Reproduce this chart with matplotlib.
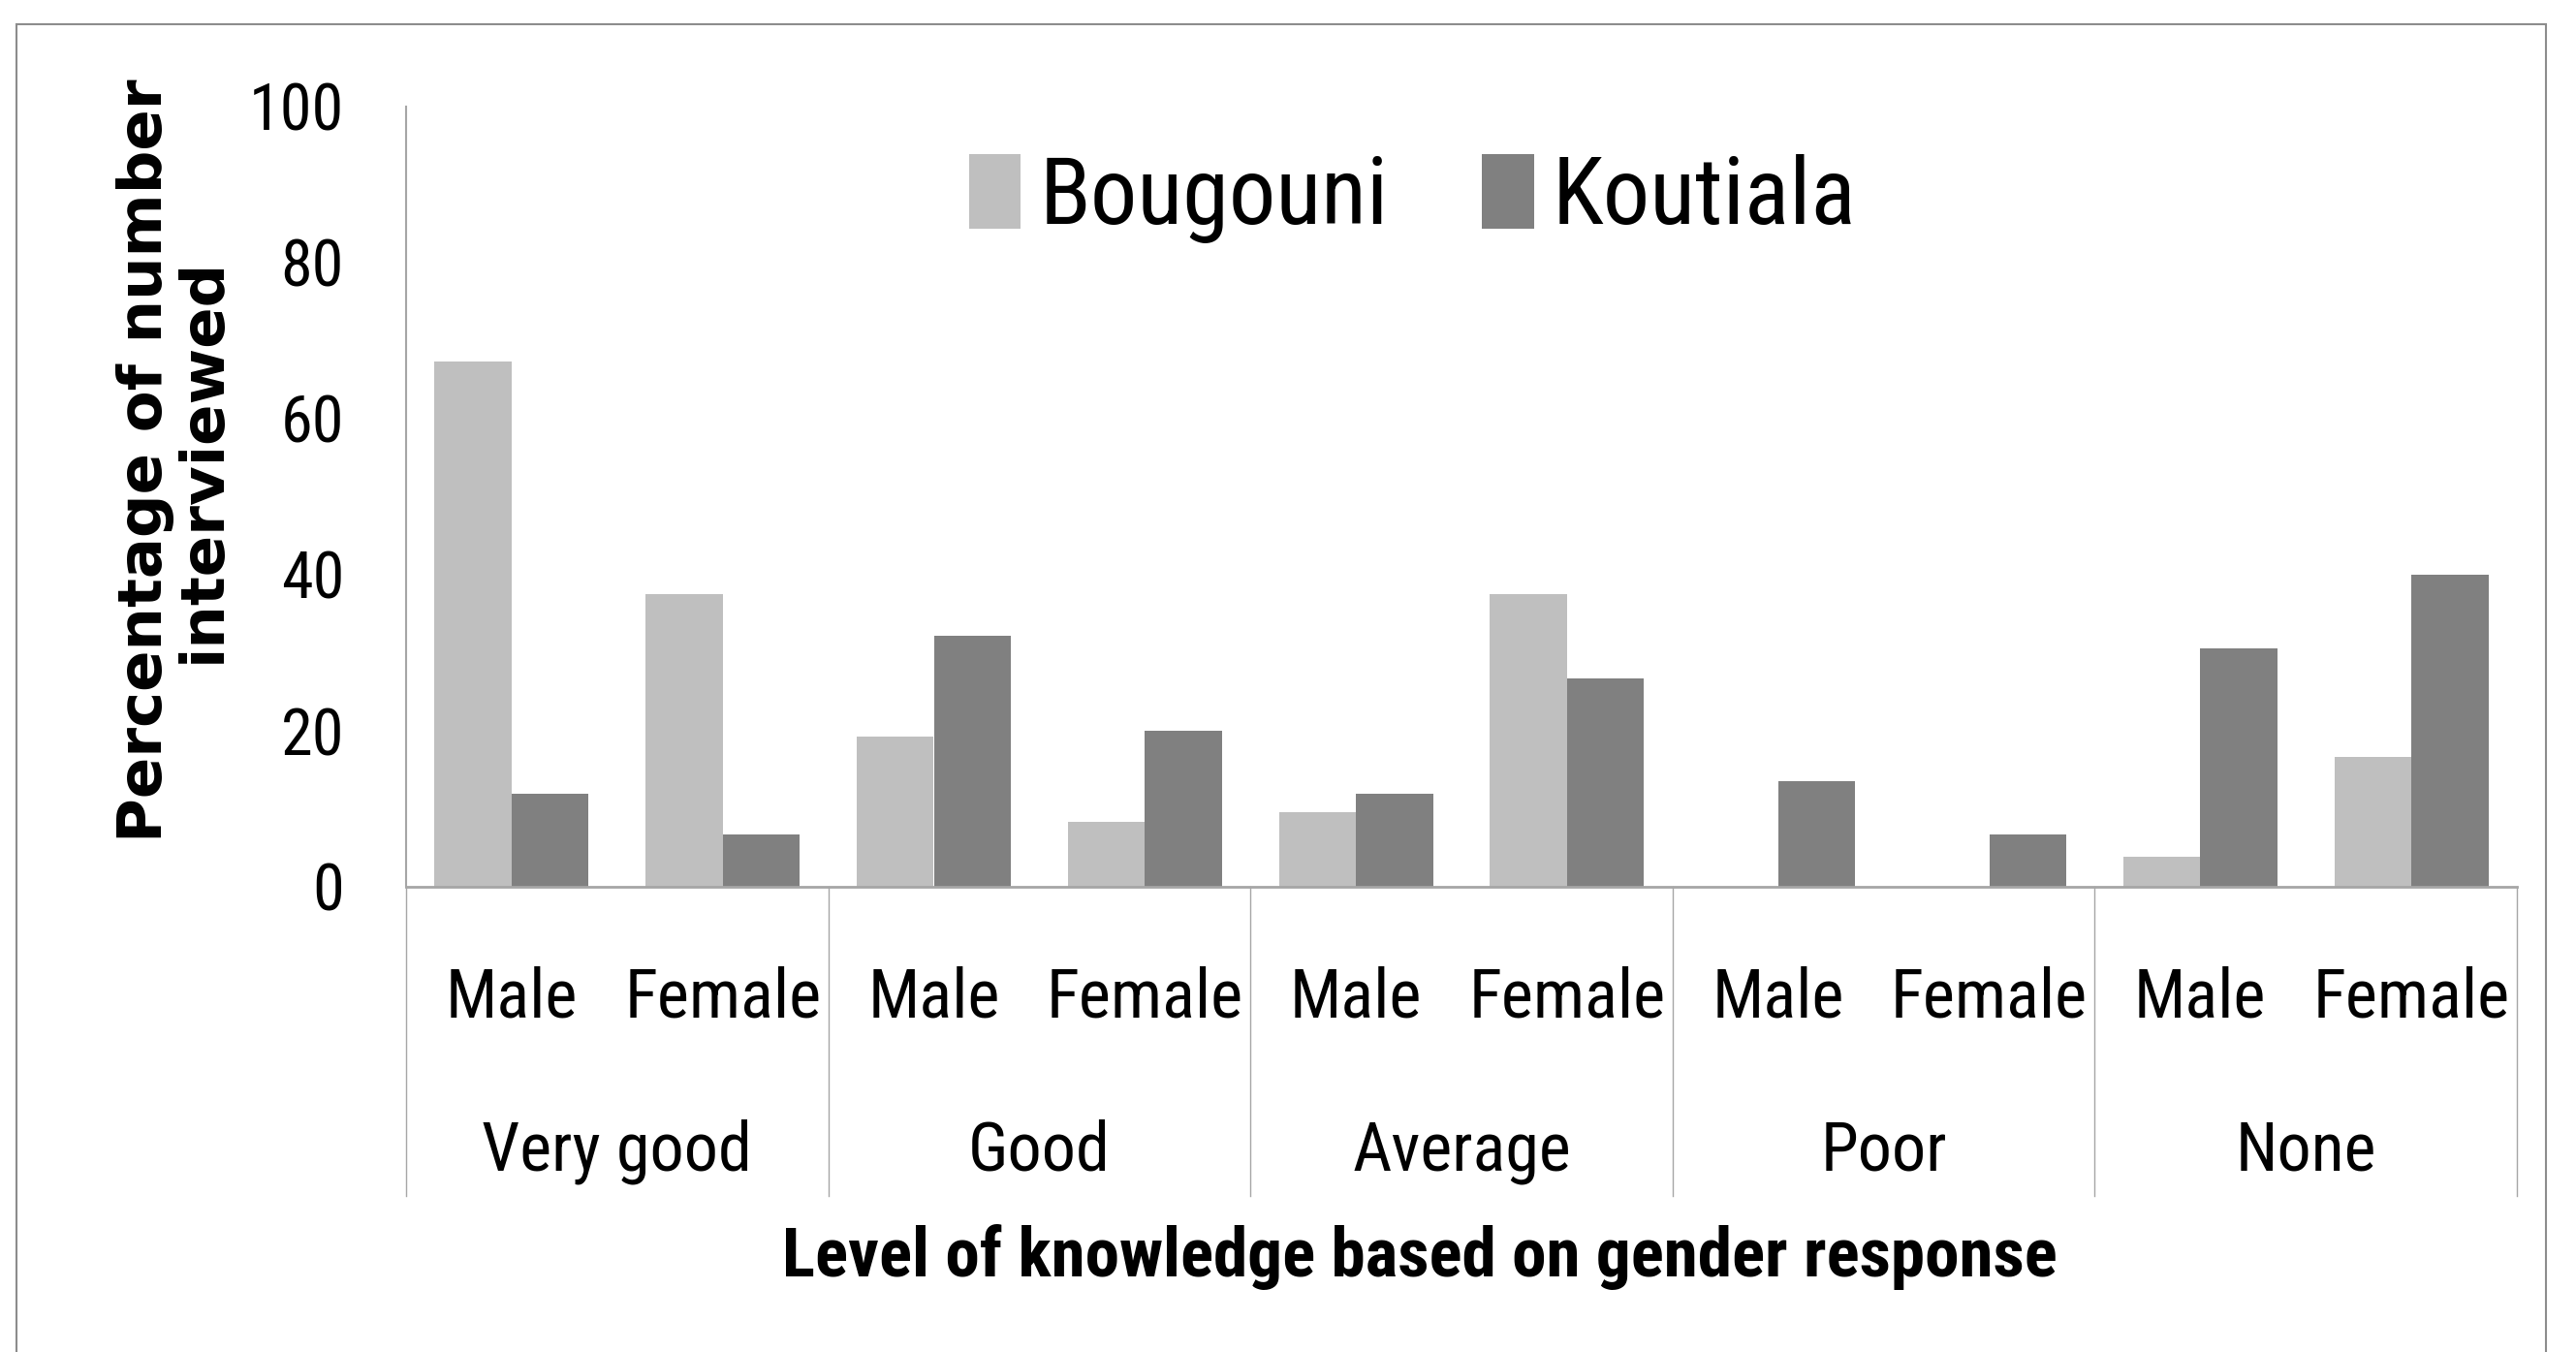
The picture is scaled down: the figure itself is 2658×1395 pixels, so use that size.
import matplotlib
matplotlib.use("Agg")
import matplotlib.pyplot as plt
import matplotlib.transforms as mtransforms
from matplotlib import font_manager
from matplotlib.patches import Rectangle
import numpy as np

# ── DATA ────────────────────────────────────────────────────────────────────
levels = ["Very good", "Good", "Average", "Poor", "None"]
genders = ["Male", "Female"]
bougouni = [67.3, 37.5, 19.2, 8.3, 9.6, 37.5, 0.0, 0.0, 3.8, 16.7]
koutiala = [11.9, 6.7, 32.2, 20.0, 11.9, 26.7, 13.6, 6.7, 30.5, 40.0]
yticks = [0, 20, 40, 60, 80, 100]

LIGHT = "#bfbfbf"
DARK = "#808080"
LINE = "#a6a6a6"

# pick a narrow face if one exists (the original is a Calibri-like font)
installed = {f.name for f in font_manager.fontManager.ttflist}
narrow = None
for cand in ["Liberation Sans Narrow", "Roboto Condensed", "DejaVu Sans Condensed",
             "Noto Sans Condensed", "Open Sans Condensed", "Lato", "Roboto"]:
    if cand in installed:
        narrow = cand
        break
NARROW = [narrow, "DejaVu Sans"] if narrow else ["DejaVu Sans"]

W, H = 2658, 1395
fig = plt.figure(figsize=(W / 100, H / 100), dpi=100)
renderer = fig.canvas.get_renderer()


def fit_size(s, target_px, weight="normal", family=NARROW):
    # font size that gives the string the width measured on the reference
    t = fig.text(0, 0, s, fontsize=50, family=family, fontweight=weight)
    w = t.get_window_extent(renderer).width
    t.remove()
    return 50 * target_px / w


tick_fs = fit_size("100", 98)
sub_fs = (fit_size("Male", 139) + fit_size("Female", 200)) / 2
cat_fs = (fit_size("Very good", 281) + fit_size("Average", 224)) / 2
leg_fs = (fit_size("Bougouni", 363) + fit_size("Koutiala", 312)) / 2
xt_fs = fit_size("Level of knowledge based on gender response", 1317, "bold")

# outer frame of the chart area
fig.patches.append(Rectangle((17 / W, -0.05), (2627 - 17) / W, 1.05 - 25 / H,
                             transform=fig.transFigure, fill=False,
                             edgecolor="#8c8c8c", linewidth=1.5))

ax = fig.add_axes([419 / W, 1 - 915 / H, (2597 - 419) / W, (915 - 110) / H])

x = np.arange(len(bougouni))
bw = 0.365
ax.bar(x - bw / 2, bougouni, bw, color=LIGHT, label="Bougouni")
ax.bar(x + bw / 2, koutiala, bw, color=DARK, label="Koutiala")

ax.set_xlim(-0.5, len(bougouni) - 0.5)
ax.set_ylim(0, 100)
ax.set_yticks(yticks)
ax.set_yticklabels([str(t) for t in yticks], family=NARROW, fontsize=tick_fs)
ax.tick_params(axis="y", length=0, pad=46)
ax.set_xticks([])

for s in ["top", "right"]:
    ax.spines[s].set_visible(False)
ax.spines["left"].set_color(LINE)
ax.spines["bottom"].set_color(LINE)
ax.spines["left"].set_linewidth(1.5)
ax.spines["bottom"].set_linewidth(2)

trans = mtransforms.blended_transform_factory(ax.transData, ax.transAxes)
y_sep = -(1234 - 915) / (915 - 110)
for i in range(len(levels) + 1):
    ax.plot([2 * i - 0.5, 2 * i - 0.5], [0, y_sep], transform=trans,
            color=LINE, linewidth=1, clip_on=False)

for i in range(len(bougouni)):
    ax.text(x[i], -(1030 - 915) / 805, genders[i % 2], transform=trans,
            ha="center", va="center", family=NARROW, fontsize=sub_fs)
for i, lv in enumerate(levels):
    ax.text(2 * i + 0.5, -(1188 - 915) / 805, lv, transform=trans,
            ha="center", va="center", family=NARROW, fontsize=cat_fs)

fig.text(1465 / W, 1 - 1297 / H, "Level of knowledge based on gender response",
         ha="center", va="center", family=NARROW, fontsize=xt_fs, fontweight="bold")
fig.text(180 / W, 1 - 475 / H, "Percentage of number\ninterviewed",
         rotation=90, ha="center", va="center", multialignment="center",
         family="DejaVu Sans", fontsize=45, fontweight="bold", linespacing=1.0)

leg = fig.legend(loc="center left", bbox_to_anchor=(1000 / W, 1 - 205 / H),
                 ncol=2, frameon=False, prop={"family": NARROW, "size": leg_fs},
                 handlelength=0.55, handleheight=0.85, handletextpad=0.2,
                 columnspacing=1.0, borderaxespad=0, borderpad=0)

plt.savefig("out.png", dpi=100)
